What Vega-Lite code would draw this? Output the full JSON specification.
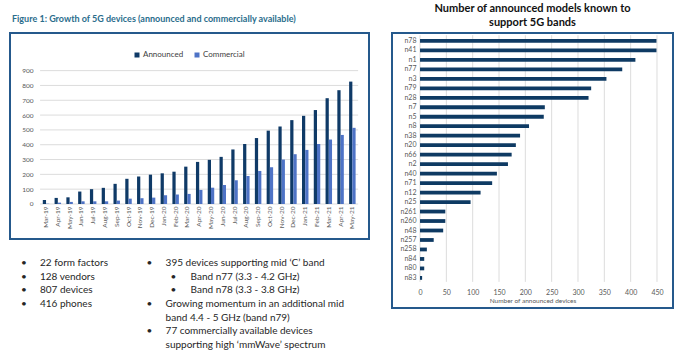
{
  "$schema": "https://vega.github.io/schema/vega-lite/v6.json",
  "background": "white",
  "padding": {"left": 9, "top": 2, "right": 0, "bottom": 0},
  "spacing": 21,
  "config": {
    "font": "Lato",
    "axis": {"labelFont": "Lato", "titleFont": "Lato", "labelColor": "#595959", "titleColor": "#595959"},
    "legend": {"labelFont": "Lato"},
    "title": {"font": "Lato"}
  },
  "hconcat": [
    {
      "spacing": 16,
      "vconcat": [
        {
          "width": 359,
          "height": 206,
          "view": {"stroke": "#25598c", "strokeWidth": 2},
          "title": {
            "text": [" ", "Figure 1: Growth of 5G devices (announced and commercially available)"],
            "anchor": "start",
            "dx": 2,
            "offset": 9,
            "fontSize": 9,
            "lineHeight": 12,
            "fontWeight": "bold",
            "color": "#2a6d8c"
          },
          "layer": [
            {
              "data": {"values": [{"v": 0}, {"v": 100}, {"v": 200}, {"v": 300}, {"v": 400}, {"v": 500}, {"v": 600}, {"v": 700}, {"v": 800}, {"v": 900}]},
              "mark": {"type": "rule", "color": "#dcdcdc", "strokeWidth": 1},
              "encoding": {
                "y": {
                  "field": "v", "type": "quantitative",
                  "axis": {"title": null, "values": [0, 100, 200, 300, 400, 500, 600, 700, 800, 900], "offset": -25, "domain": false, "ticks": false, "grid": false, "labelPadding": 2, "labelFontSize": 6.5, "labelOverlap": false}
                },
                "x": {"datum": "Mar-19", "type": "nominal", "bandPosition": -0.42},
                "x2": {"datum": "May-21", "bandPosition": 1.39}
              }
            },
            {
              "data": {"values": [
                {"month": "Mar-19", "Announced": 27, "Commercial": 2},
                {"month": "Apr-19", "Announced": 41, "Commercial": 9},
                {"month": "May-19", "Announced": 45, "Commercial": 14},
                {"month": "Jun-19", "Announced": 84, "Commercial": 18},
                {"month": "Jul-19", "Announced": 100, "Commercial": 18},
                {"month": "Aug-19", "Announced": 109, "Commercial": 18},
                {"month": "Sep-19", "Announced": 136, "Commercial": 23},
                {"month": "Oct-19", "Announced": 170, "Commercial": 36},
                {"month": "Nov-19", "Announced": 186, "Commercial": 39},
                {"month": "Dec-19", "Announced": 198, "Commercial": 43},
                {"month": "Jan-20", "Announced": 207, "Commercial": 59},
                {"month": "Feb-20", "Announced": 218, "Commercial": 64},
                {"month": "Mar-20", "Announced": 252, "Commercial": 68},
                {"month": "Apr-20", "Announced": 284, "Commercial": 95},
                {"month": "May-20", "Announced": 298, "Commercial": 110},
                {"month": "Jun-20", "Announced": 318, "Commercial": 128},
                {"month": "Jul-20", "Announced": 368, "Commercial": 160},
                {"month": "Aug-20", "Announced": 405, "Commercial": 189},
                {"month": "Sep-20", "Announced": 445, "Commercial": 223},
                {"month": "Oct-20", "Announced": 495, "Commercial": 248},
                {"month": "Nov-20", "Announced": 523, "Commercial": 300},
                {"month": "Dec-20", "Announced": 566, "Commercial": 336},
                {"month": "Jan-21", "Announced": 595, "Commercial": 365},
                {"month": "Feb-21", "Announced": 634, "Commercial": 405},
                {"month": "Mar-21", "Announced": 714, "Commercial": 435},
                {"month": "Apr-21", "Announced": 768, "Commercial": 466},
                {"month": "May-21", "Announced": 826, "Commercial": 514}
              ]},
              "transform": [{"fold": ["Announced", "Commercial"], "as": ["series", "value"]}],
              "mark": {"type": "bar"},
              "encoding": {
                "x": {
                  "field": "month", "type": "nominal", "sort": null,
                  "scale": {
                    "domain": ["Mar-19", "Apr-19", "May-19", "Jun-19", "Jul-19", "Aug-19", "Sep-19", "Oct-19", "Nov-19", "Dec-19", "Jan-20", "Feb-20", "Mar-20", "Apr-20", "May-20", "Jun-20", "Jul-20", "Aug-20", "Sep-20", "Oct-20", "Nov-20", "Dec-20", "Jan-21", "Feb-21", "Mar-21", "Apr-21", "May-21"],
                    "range": [32.8, 345.6],
                    "paddingInner": 0.45, "paddingOuter": 0
                  },
                  "axis": {"title": null, "labelAngle": -90, "offset": -35, "domain": false, "ticks": false, "grid": false, "labelPadding": 2, "labelFontSize": 6.5, "labelOverlap": false}
                },
                "xOffset": {"field": "series", "type": "nominal", "scale": {"paddingInner": 0, "paddingOuter": 0}},
                "y": {
                  "field": "value", "type": "quantitative",
                  "scale": {"domain": [-236.3, 1154], "nice": false, "zero": false},
                  "axis": {"title": null, "values": [0, 100, 200, 300, 400, 500, 600, 700, 800, 900], "offset": -25, "domain": false, "ticks": false, "grid": false, "labelPadding": 2, "labelFontSize": 6.5, "labelOverlap": false}
                },
                "y2": {"datum": 0},
                "color": {
                  "field": "series", "type": "nominal",
                  "scale": {"domain": ["Announced", "Commercial"], "range": ["#0f3a67", "#4e73c6"]},
                  "legend": {"orient": "none", "legendX": 123, "legendY": 18, "direction": "horizontal", "title": null, "symbolType": "square", "symbolSize": 25, "symbolStrokeWidth": 0, "labelFontSize": 8, "labelColor": "#404040", "columnPadding": 9, "padding": 0, "labelOffset": 2}
                }
              }
            }
          ]
        },
        {
          "width": 359,
          "height": 96,
          "view": {"stroke": null},
          "data": {"values": [
            {"col": "left", "line": 1, "level": 1, "text": "22 form factors"},
            {"col": "left", "line": 2, "level": 1, "text": "128 vendors"},
            {"col": "left", "line": 3, "level": 1, "text": "807 devices"},
            {"col": "left", "line": 4, "level": 1, "text": "416 phones"},
            {"col": "right", "line": 1, "level": 1, "text": "395 devices supporting mid ‘C’ band"},
            {"col": "right", "line": 2, "level": 2, "text": "Band n77 (3.3  -  4.2 GHz)"},
            {"col": "right", "line": 3, "level": 2, "text": "Band n78 (3.3  -  3.8 GHz)"},
            {"col": "right", "line": 4, "level": 1, "text": "Growing momentum in an additional mid"},
            {"col": "right", "line": 5, "level": 0, "text": "band 4.4  -  5 GHz (band n79)"},
            {"col": "right", "line": 6, "level": 1, "text": "77 commercially available devices"},
            {"col": "right", "line": 7, "level": 0, "text": "supporting high ‘mmWave’ spectrum"}
          ]},
          "encoding": {
            "x": {"field": "col", "type": "nominal", "scale": {"type": "point", "domain": ["left", "right"], "padding": 0.929, "align": 0.047}, "axis": null},
            "y": {"field": "line", "type": "ordinal", "scale": {"type": "point", "domain": [1, 2, 3, 4, 5, 6, 7], "padding": 0.5}, "axis": null}
          },
          "layer": [
            {
              "transform": [{"filter": "datum.level == 1"}],
              "mark": {"type": "text", "text": "•", "align": "left", "baseline": "middle", "fontSize": 10, "color": "#262626"}
            },
            {
              "transform": [{"filter": "datum.level == 2"}],
              "mark": {"type": "text", "text": "•", "align": "left", "baseline": "middle", "fontSize": 10, "color": "#262626", "dx": 24}
            },
            {
              "transform": [{"filter": "datum.level < 2"}],
              "mark": {"type": "text", "align": "left", "baseline": "middle", "fontSize": 10, "color": "#262626", "dx": 19},
              "encoding": {"text": {"field": "text"}}
            },
            {
              "transform": [{"filter": "datum.level == 2"}],
              "mark": {"type": "text", "align": "left", "baseline": "middle", "fontSize": 10, "color": "#262626", "dx": 44},
              "encoding": {"text": {"field": "text"}}
            }
          ]
        }
      ]
    },
    {
      "vconcat": [
        {
          "width": 281,
          "height": 275,
          "view": {"stroke": "#25598c", "strokeWidth": 2},
          "title": {
            "text": ["Number of announced models known to", "support 5G bands"],
            "anchor": "middle",
            "offset": 5,
            "fontSize": 11,
            "lineHeight": 14,
            "fontWeight": "bold",
            "color": "#111111"
          },
          "layer": [
            {
              "data": {"values": [{"v": 0}, {"v": 50}, {"v": 100}, {"v": 150}, {"v": 200}, {"v": 250}, {"v": 300}, {"v": 350}, {"v": 400}, {"v": 450}]},
              "mark": {"type": "rule", "color": "#dcdcdc", "strokeWidth": 1},
              "encoding": {
                "x": {
                  "field": "v", "type": "quantitative",
                  "axis": {"title": "Number of announced devices", "values": [0, 50, 100, 150, 200, 250, 300, 350, 400, 450], "offset": -22, "domain": false, "ticks": false, "grid": false, "labelPadding": 2, "labelFontSize": 7, "labelOverlap": false, "titleFontSize": 6.5, "titleFontWeight": "normal", "titlePadding": 2}
                },
                "y": {"datum": "n78", "type": "nominal", "bandPosition": -1},
                "y2": {"datum": "n83", "bandPosition": 1.55}
              }
            },
            {
              "data": {"values": [
                {"band": "n78", "n": 449}, {"band": "n41", "n": 449}, {"band": "n1", "n": 409}, {"band": "n77", "n": 384},
                {"band": "n3", "n": 354}, {"band": "n79", "n": 325}, {"band": "n28", "n": 320}, {"band": "n7", "n": 237},
                {"band": "n5", "n": 235}, {"band": "n8", "n": 207}, {"band": "n38", "n": 190}, {"band": "n20", "n": 182},
                {"band": "n66", "n": 174}, {"band": "n2", "n": 167}, {"band": "n40", "n": 146}, {"band": "n71", "n": 137},
                {"band": "n12", "n": 115}, {"band": "n25", "n": 96}, {"band": "n261", "n": 48}, {"band": "n260", "n": 48},
                {"band": "n48", "n": 44}, {"band": "n257", "n": 26}, {"band": "n258", "n": 13}, {"band": "n84", "n": 8},
                {"band": "n80", "n": 8}, {"band": "n83", "n": 4}
              ]},
              "mark": {"type": "bar", "color": "#0e3a63"},
              "encoding": {
                "y": {
                  "field": "band", "type": "nominal", "sort": null,
                  "scale": {
                    "domain": ["n78", "n41", "n1", "n77", "n3", "n79", "n28", "n7", "n5", "n8", "n38", "n20", "n66", "n2", "n40", "n71", "n12", "n25", "n261", "n260", "n48", "n257", "n258", "n84", "n80", "n83"],
                    "range": [6, 246.8],
                    "paddingInner": 0.6, "paddingOuter": 0
                  },
                  "axis": {"title": null, "offset": -28, "domain": false, "ticks": false, "grid": false, "labelPadding": 4, "labelFontSize": 7, "labelOverlap": false}
                },
                "x": {
                  "field": "n", "type": "quantitative",
                  "scale": {"domain": [-53.2, 480.4], "nice": false, "zero": false},
                  "axis": {"title": "Number of announced devices", "values": [0, 50, 100, 150, 200, 250, 300, 350, 400, 450], "offset": -22, "domain": false, "ticks": false, "grid": false, "labelPadding": 2, "labelFontSize": 7, "labelOverlap": false, "titleFontSize": 6.5, "titleFontWeight": "normal", "titlePadding": 2}
                },
                "x2": {"datum": 0}
              }
            }
          ]
        }
      ]
    }
  ]
}
